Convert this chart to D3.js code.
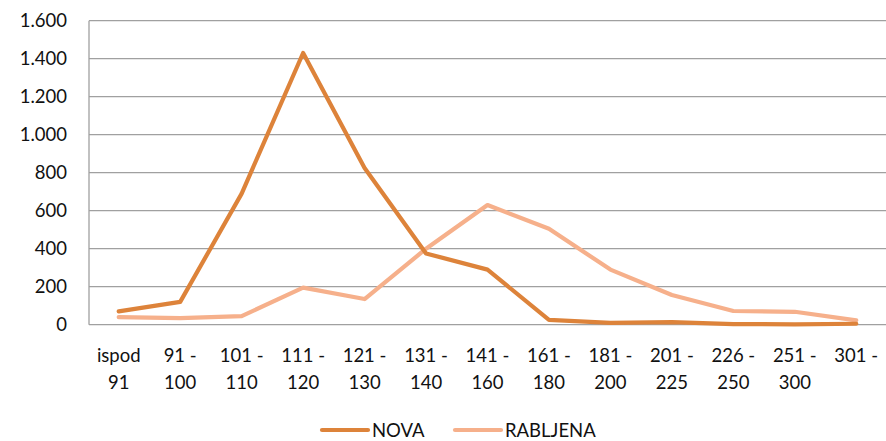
<!DOCTYPE html>
<html>
<head>
<meta charset="utf-8">
<title>NOVA / RABLJENA</title>
<script src="https://d3js.org/d3.v7.min.js"></script>
<style>
body { margin: 0; background: #fff; }
svg text { font-family: Lato, "Open Sans", sans-serif; fill: #111; }
.grid line { stroke: #a0a0a0; stroke-width: 1.3px; }
</style>
</head>
<body>
<svg id="chart" width="886" height="441"></svg>
<script>
// categories (tick labels, two lines each)
var categories = ["ispod 91", "91 - 100", "101 - 110", "111 - 120", "121 - 130", "131 - 140",
  "141 - 160", "161 - 180", "181 - 200", "201 - 225", "226 - 250", "251 - 300", "301 -"];
var tickLines = [["ispod", "91"], ["91 -", "100"], ["101 -", "110"], ["111 -", "120"], ["121 -", "130"],
  ["131 -", "140"], ["141 -", "160"], ["161 -", "180"], ["181 -", "200"], ["201 -", "225"],
  ["226 -", "250"], ["251 -", "300"], ["301 -", ""]];
var nova = [70, 120, 690, 1430, 825, 375, 290, 25, 10, 14, 3, 2, 5];
var rabljena = [40, 35, 45, 195, 135, 400, 630, 505, 290, 156, 72, 68, 23];
var yTicks = [0, 200, 400, 600, 800, 1000, 1200, 1400, 1600];

var svg = d3.select("#chart");
var plotL = 88, plotR = 887, plotT = 20.7, plotB = 324.7;
var fs = 18.5;

var x = d3.scalePoint().domain(categories).range([plotL, plotR]).padding(0.5);
var y = d3.scaleLinear().domain([0, 1600]).range([plotB, plotT]);

var fmt = function(v) { return d3.format(",")(v).replace(/,/g, "."); };

// grid
svg.append("g").attr("class", "grid")
  .selectAll("line").data(yTicks).enter().append("line")
  .attr("x1", plotL + 1).attr("x2", 886)
  .attr("y1", function(d) { return y(d); }).attr("y2", function(d) { return y(d); });

svg.append("line").attr("x1", 89).attr("x2", 89).attr("y1", plotT).attr("y2", plotB)
  .attr("stroke", "#a0a0a0").attr("stroke-width", 1.3);

// y labels
svg.append("g").selectAll("text").data(yTicks).enter().append("text")
  .attr("x", 67).attr("y", function(d) { return y(d) + 6.5; })
  .attr("text-anchor", "end").attr("font-size", fs)
  .text(fmt);

// x labels
var xl = svg.append("g").selectAll("text").data(categories).enter().append("text")
  .attr("text-anchor", "middle").attr("font-size", fs);
xl.append("tspan").attr("x", function(d) { return x(d); }).attr("y", 362)
  .text(function(d, i) { return tickLines[i][0]; });
xl.append("tspan").attr("x", function(d) { return x(d); }).attr("y", 389)
  .text(function(d, i) { return tickLines[i][1]; });

var line = d3.line()
  .x(function(d, i) { return x(categories[i]); })
  .y(function(d) { return y(d); });

var series = [
  { name: "NOVA", values: nova, color: "#dd833a" },
  { name: "RABLJENA", values: rabljena, color: "#f6b08b" }
];

// draw rabljena under nova
svg.append("path").datum(rabljena).attr("d", line)
  .attr("fill", "none").attr("stroke", series[1].color).attr("stroke-width", 4.2)
  .attr("stroke-linejoin", "round").attr("stroke-linecap", "round");
svg.append("path").datum(nova).attr("d", line)
  .attr("fill", "none").attr("stroke", series[0].color).attr("stroke-width", 4.2)
  .attr("stroke-linejoin", "round").attr("stroke-linecap", "round");

// legend
var legX = [322, 455];
series.forEach(function(s, i) {
  svg.append("line").attr("x1", legX[i]).attr("x2", legX[i] + 46)
    .attr("y1", 430).attr("y2", 430)
    .attr("stroke", s.color).attr("stroke-width", 4.2).attr("stroke-linecap", "round");
  svg.append("text").attr("x", legX[i] + 50).attr("y", 436.5)
    .attr("font-size", fs).text(s.name);
});
</script>
</body>
</html>
